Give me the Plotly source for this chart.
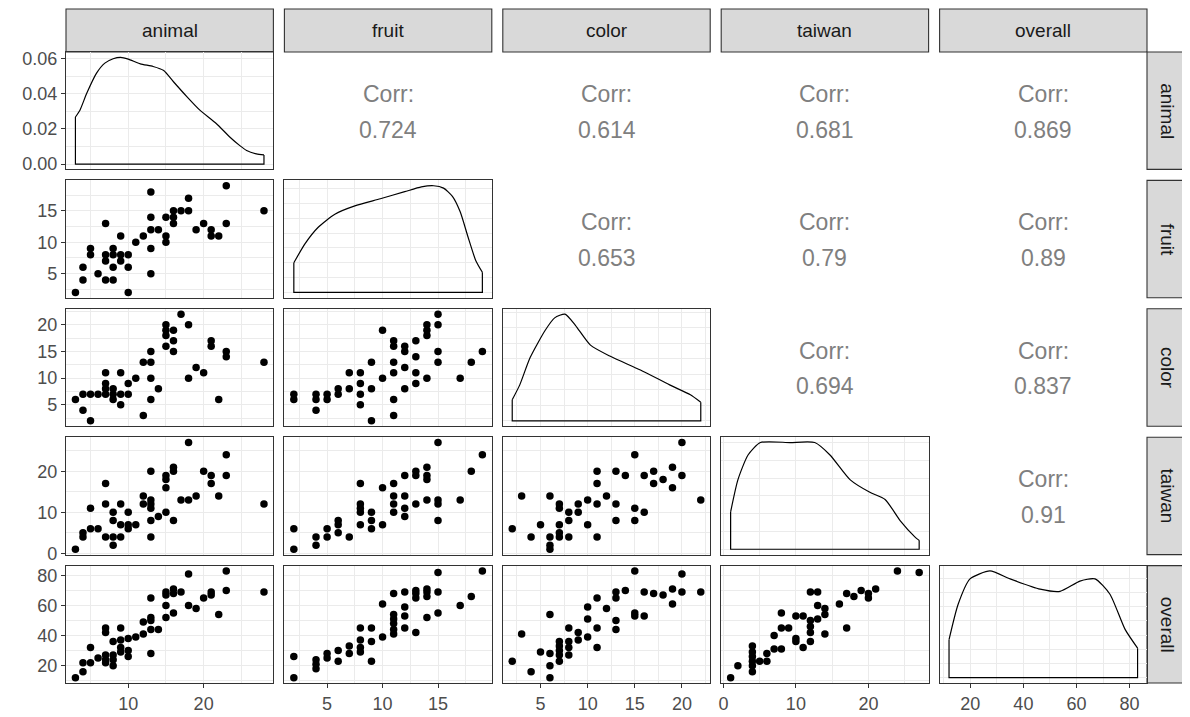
import plotly.graph_objects as go

# The page body has an 8 px margin, so the figure is drawn 8 px in from the top-left corner.
OFF = 8
W, H = 1190 - OFF, 717 - OFF

variables = ["animal", "fruit", "color", "taiwan", "overall"]

# correlation labels (upper triangle): (row, col, text)
corr_labels = [
    (0, 1, "0.724"), (0, 2, "0.614"), (0, 3, "0.681"), (0, 4, "0.869"),
    (1, 2, "0.653"), (1, 3, "0.79"), (1, 4, "0.89"),
    (2, 3, "0.694"), (2, 4, "0.837"),
    (3, 4, "0.91"),
]

# ---- scatter panels (x value, y value) ----
animal_fruit = [(3,2),(4,6),(4,4),(5,9),(5,8),(6,5),(7,13),(7,8),(7,7),(7,4),(8,9),(8,8),(8,6),(8,4),
                (9,11),(9,8),(9,7),(10,8),(10,6),(10,2),(11,10),(12,11),(13,18),(13,14),(13,12),(13,9),
                (13,5),(14,12),(15,14),(15,11),(15,10),(16,15),(16,14),(16,13),(17,15),(18,17),(18,15),
                (19,12),(20,13),(21,12),(21,11),(22,11),(23,19),(23,13),(28,15)]
animal_color = [(3,6),(4,7),(4,4),(5,7),(5,2),(6,7),(7,11),(7,9),(7,8),(7,7),(8,8),(8,7),(8,6),(9,11),
                (9,7),(9,5),(10,9),(10,7),(11,10),(12,13),(12,3),(13,15),(13,13),(13,10),(13,6),(14,8),
                (15,20),(15,19),(15,18),(15,16),(16,19),(16,17),(16,15),(17,22),(18,20),(18,10),(19,12),
                (20,11),(21,17),(21,16),(22,6),(23,15),(23,14),(28,13)]
animal_taiwan = [(3,1),(4,5),(4,4),(5,11),(5,6),(6,6),(7,17),(7,12),(7,4),(8,10),(8,8),(8,4),(8,2),
                 (9,12),(9,7),(9,4),(10,10),(10,7),(10,6),(11,7),(12,14),(12,12),(13,20),(13,13),(13,12),
                 (13,11),(13,8),(13,4),(14,9),(15,19),(15,18),(15,16),(15,10),(16,21),(16,20),(16,8),
                 (17,13),(18,27),(18,13),(19,14),(20,20),(21,19),(21,17),(22,14),(23,24),(23,19),(28,12)]
animal_overall = [(3,12),(4,22),(4,16),(5,32),(5,22),(6,25),(7,45),(7,42),(7,27),(7,24),(7,22),(8,36),
                  (8,27),(8,24),(8,20),(9,45),(9,37),(9,32),(9,29),(10,38),(10,30),(10,26),(11,39),
                  (12,41),(12,49),(13,65),(13,52),(13,50),(13,44),(13,28),(14,44),(15,69),(15,67),(15,60),
                  (15,52),(16,71),(16,68),(16,55),(17,69),(18,81),(18,60),(19,58),(20,65),(21,69),(21,67),
                  (22,54),(23,83),(23,70),(28,69)]
fruit_color = [(2,7),(2,6),(4,7),(4,6),(4,4),(5,7),(5,6),(6,8),(6,7),(7,11),(7,8),(8,11),(8,9),(8,7),
               (8,5),(9,13),(9,8),(9,2),(10,19),(10,10),(11,17),(11,16),(11,13),(11,11),(11,6),(11,3),
               (12,16),(12,15),(12,12),(12,8),(13,17),(13,14),(13,11),(13,9),(14,20),(14,19),(14,18),
               (14,10),(15,22),(15,20),(15,15),(15,13),(17,10),(18,13),(19,15)]
fruit_taiwan = [(2,6),(2,1),(4,4),(4,2),(5,6),(5,4),(6,8),(6,7),(6,5),(7,4),(8,17),(8,12),(8,11),(8,10),
                (8,7),(9,10),(9,8),(9,6),(10,16),(10,7),(11,17),(11,14),(11,12),(11,10),(12,19),(12,14),
                (12,11),(12,9),(13,20),(13,19),(13,12),(14,21),(14,19),(14,18),(14,13),(15,27),(15,13),
                (15,12),(15,8),(17,13),(18,20),(19,24)]
fruit_overall = [(2,26),(2,12),(4,24),(4,21),(4,18),(5,28),(5,25),(6,30),(6,23),(7,33),(7,28),(8,45),
                 (8,37),(8,32),(8,29),(9,45),(9,36),(9,23),(10,61),(10,39),(11,68),(11,54),(11,51),(11,48),
                 (11,44),(11,41),(12,69),(12,59),(12,53),(12,45),(13,70),(13,68),(13,65),(13,42),(14,71),
                 (14,69),(14,66),(14,52),(15,82),(15,69),(15,55),(17,60),(18,66),(19,83)]
color_taiwan = [(2,6),(3,14),(4,4),(5,7),(6,14),(6,4),(6,2),(6,1),(7,12),(7,11),(7,7),(7,5),(7,4),
                (8,10),(8,8),(8,4),(9,12),(9,10),(10,13),(10,7),(11,20),(11,17),(11,12),(11,4),(12,14),
                (13,20),(13,12),(13,8),(14,19),(15,24),(15,11),(15,8),(16,19),(16,10),(17,20),(17,17),
                (18,18),(19,21),(19,16),(20,27),(20,19),(22,13)]
color_overall = [(2,23),(3,41),(4,16),(5,29),(6,54),(6,28),(6,20),(6,12),(7,36),(7,33),(7,30),(7,27),
                 (7,23),(8,45),(8,36),(8,32),(8,27),(9,42),(9,37),(10,59),(10,51),(10,39),(11,65),(11,45),
                 (11,32),(12,58),(13,69),(13,65),(13,50),(13,44),(14,70),(15,83),(15,55),(15,53),(16,69),
                 (16,53),(17,68),(18,67),(19,71),(19,61),(20,81),(20,69),(22,69)]
taiwan_overall = [(1,12),(2,20),(4,33),(4,29),(4,26),(4,23),(4,20),(4,16),(5,23),(6,28),(6,23),(7,40),
                  (7,31),(8,55),(8,45),(8,31),(9,45),(10,53),(10,38),(10,36),(11,53),(11,32),(12,69),
                  (12,50),(12,46),(12,42),(12,36),(13,69),(13,60),(13,51),(14,58),(14,54),(14,41),(16,61),
                  (17,68),(17,45),(18,66),(19,70),(20,68),(20,65),(21,71),(24,83),(27,82)]

scatter_panels = {
    (1, 0): animal_fruit, (2, 0): animal_color, (3, 0): animal_taiwan, (4, 0): animal_overall,
    (2, 1): fruit_color, (3, 1): fruit_taiwan, (4, 1): fruit_overall,
    (3, 2): color_taiwan, (4, 2): color_overall,
    (4, 3): taiwan_overall,
}

# ---- density curves on the diagonal (value, density) ----
animal_density_x = [3, 3.6, 4.5, 5.8, 6.9, 8.0, 9.0, 10.0, 11.6, 13.3, 14.7, 16.0, 17.8, 19.5, 21.7, 23.5, 24.8, 25.7, 27.0, 28]
animal_density_y = [0.0268, 0.0307, 0.0403, 0.0518, 0.0575, 0.0600, 0.0608, 0.0598, 0.0571, 0.0556, 0.0533, 0.0469, 0.0383, 0.0307, 0.0230, 0.0153, 0.0105, 0.0077, 0.0058, 0.0052]
fruit_density_x = [2, 3.0, 4.2, 5.7, 7.5, 9.8, 12.0, 13.5, 14.6, 15.5, 16.3, 17.0, 17.7, 18.4, 19]
fruit_density_y = [0.025, 0.041, 0.055, 0.066, 0.073, 0.079, 0.085, 0.089, 0.090, 0.088, 0.081, 0.068, 0.047, 0.027, 0.017]
color_density_x = [2, 2.8, 3.9, 5.5, 6.5, 7.6, 8.7, 10.3, 12.4, 15.6, 18.7, 20.9, 22]
color_density_y = [0.017, 0.029, 0.051, 0.073, 0.083, 0.086, 0.077, 0.061, 0.052, 0.041, 0.029, 0.021, 0.015]
taiwan_density_x = [1, 2.0, 3.4, 5.1, 9.2, 12.6, 14.7, 17.5, 20.2, 22.3, 24.4, 26.4, 27]
taiwan_density_y = [0.021, 0.039, 0.053, 0.060, 0.060, 0.060, 0.053, 0.039, 0.032, 0.028, 0.016, 0.007, 0.005]
overall_density_x = [12, 15.4, 19.9, 27.4, 35.0, 46.3, 53.8, 61.3, 67.0, 72.6, 78.3, 83]
overall_density_y = [0.0067, 0.0129, 0.0174, 0.0188, 0.0174, 0.0156, 0.0152, 0.0170, 0.0174, 0.0147, 0.0085, 0.0052]

densities = [
    (animal_density_x, animal_density_y), (fruit_density_x, fruit_density_y),
    (color_density_x, color_density_y), (taiwan_density_x, taiwan_density_y),
    (overall_density_x, overall_density_y),
]

# ---- layout geometry (pixels in the browser window) ----
col_px = [(66, 273.4), (284.4, 491.8), (502.8, 710.2), (721.2, 928.6), (939.6, 1147)]
row_px = [(52, 169.4), (180.4, 297.8), (308.8, 426.2), (437.2, 554.6), (565.6, 683)]
strip_top = (9, 52)
strip_right = (1147, 1188)

ranges = {"animal": [1.75, 29.25], "fruit": [1.15, 19.85], "color": [1, 23],
          "taiwan": [-0.3, 28.3], "overall": [8.45, 86.55]}
ticks = {"animal": (10, 5), "fruit": (5, 2.5), "color": (5, 2.5),
         "taiwan": (10, 5), "overall": (20, 10)}

def px2x(p):
    return (p - OFF) / W

def px2y(p):
    return 1 - (p - OFF) / H

GRID = "#ebebeb"
DARK = "#333333"
FONTFAM = "Liberation Sans, Arial, sans-serif"
TICKFONT = dict(family=FONTFAM, size=18, color="#4d4d4d")

fig = go.Figure()
layout = {}

for r in range(5):
    for c in range(5):
        k = r * 5 + c + 1
        xa = "xaxis" if k == 1 else f"xaxis{k}"
        ya = "yaxis" if k == 1 else f"yaxis{k}"
        xref = "x" if k == 1 else f"x{k}"
        yref = "y" if k == 1 else f"y{k}"
        xv = variables[c]
        yv = variables[r]
        xmaj, xmin = ticks[xv]
        x_axis = dict(
            domain=[px2x(col_px[c][0]), px2x(col_px[c][1])],
            range=ranges[xv], anchor=yref, tick0=0, dtick=xmaj,
            showgrid=True, gridcolor=GRID, gridwidth=1.3,
            minor=dict(dtick=xmin, tick0=0, showgrid=True, gridcolor=GRID, gridwidth=0.7),
            showline=True, mirror=True, linecolor=DARK, linewidth=1.1,
            zeroline=False, showticklabels=(r == 4), ticks="outside" if r == 4 else "",
            ticklen=4, tickcolor=DARK, tickwidth=1.1, tickfont=TICKFONT, automargin=False,
        )
        if r == c:
            dy = densities[r][1]
            m = max(dy)
            yrng = [-0.05 * m, 1.05 * m]
            if r == 0:
                ymaj, ymin_ = 0.02, 0.01
            else:
                ymaj = {1: 0.025, 2: 0.025, 3: 0.02, 4: 0.005}[r]
                ymin_ = ymaj / 2
        else:
            ymaj, ymin_ = ticks[yv]
            yrng = ranges[yv]
        y_axis = dict(
            domain=[px2y(row_px[r][1]), px2y(row_px[r][0])],
            range=yrng, anchor=xref, tick0=0, dtick=ymaj,
            showgrid=True, gridcolor=GRID, gridwidth=1.3,
            minor=dict(dtick=ymin_, tick0=0, showgrid=True, gridcolor=GRID, gridwidth=0.7),
            showline=True, mirror=True, linecolor=DARK, linewidth=1.1,
            zeroline=False, showticklabels=(c == 0), ticks="outside" if c == 0 else "",
            ticklen=4, tickcolor=DARK, tickwidth=1.1, tickfont=TICKFONT, automargin=False,
        )
        if r == 0 and c == 0:
            y_axis["tickformat"] = ".2f"
        layout[xa] = x_axis
        layout[ya] = y_axis

        if (r, c) in scatter_panels:
            pts = scatter_panels[(r, c)]
            fig.add_trace(go.Scatter(
                x=[p[0] for p in pts], y=[p[1] for p in pts], mode="markers",
                marker=dict(color="black", size=7.5, line=dict(width=0)),
                xaxis=xref, yaxis=yref, showlegend=False, hoverinfo="skip"))
        elif r == c:
            dx, dy = densities[r]
            # smooth density curve
            fig.add_trace(go.Scatter(
                x=dx, y=dy, mode="lines",
                line=dict(color="black", width=1.2, shape="spline", smoothing=0.6),
                xaxis=xref, yaxis=yref, showlegend=False, hoverinfo="skip"))
            # straight closing edges of the density polygon
            fig.add_trace(go.Scatter(
                x=[dx[0], dx[0], dx[-1], dx[-1]], y=[dy[0], 0, 0, dy[-1]], mode="lines",
                line=dict(color="black", width=1.2),
                xaxis=xref, yaxis=yref, showlegend=False, hoverinfo="skip"))

shapes = []
annotations = []
STRIPFONT = dict(family=FONTFAM, size=19, color="#1a1a1a")
for c, name in enumerate(variables):
    shapes.append(dict(type="rect", xref="paper", yref="paper",
                       x0=px2x(col_px[c][0]), x1=px2x(col_px[c][1]),
                       y0=px2y(strip_top[1]), y1=px2y(strip_top[0]),
                       fillcolor="#d9d9d9", line=dict(color=DARK, width=1.1), layer="below"))
    annotations.append(dict(text=name, xref="paper", yref="paper",
                            x=px2x((col_px[c][0] + col_px[c][1]) / 2),
                            y=px2y((strip_top[0] + strip_top[1]) / 2),
                            showarrow=False, font=STRIPFONT, xanchor="center", yanchor="middle"))
for r, name in enumerate(variables):
    shapes.append(dict(type="rect", xref="paper", yref="paper",
                       x0=px2x(strip_right[0]), x1=px2x(strip_right[1]),
                       y0=px2y(row_px[r][1]), y1=px2y(row_px[r][0]),
                       fillcolor="#d9d9d9", line=dict(color=DARK, width=1.1), layer="below"))
    annotations.append(dict(text=name, xref="paper", yref="paper",
                            x=px2x((strip_right[0] + strip_right[1]) / 2),
                            y=px2y((row_px[r][0] + row_px[r][1]) / 2),
                            showarrow=False, font=STRIPFONT, textangle=90,
                            xanchor="center", yanchor="middle"))

CORRFONT = dict(family=FONTFAM, size=23, color="#7f7f7f")
for r, c, val in corr_labels:
    cx = (col_px[c][0] + col_px[c][1]) / 2
    cy = (row_px[r][0] + row_px[r][1]) / 2
    annotations.append(dict(text="Corr:", xref="paper", yref="paper", x=px2x(cx), y=px2y(cy - 17),
                            showarrow=False, font=CORRFONT, xanchor="center", yanchor="middle"))
    annotations.append(dict(text=val, xref="paper", yref="paper", x=px2x(cx), y=px2y(cy + 19),
                            showarrow=False, font=CORRFONT, xanchor="center", yanchor="middle"))

fig.update_layout(
    width=W, height=H, margin=dict(l=0, r=0, t=0, b=0),
    paper_bgcolor="white", plot_bgcolor="white",
    shapes=shapes, annotations=annotations, showlegend=False,
    **layout,
)

fig.write_html("out.html")
